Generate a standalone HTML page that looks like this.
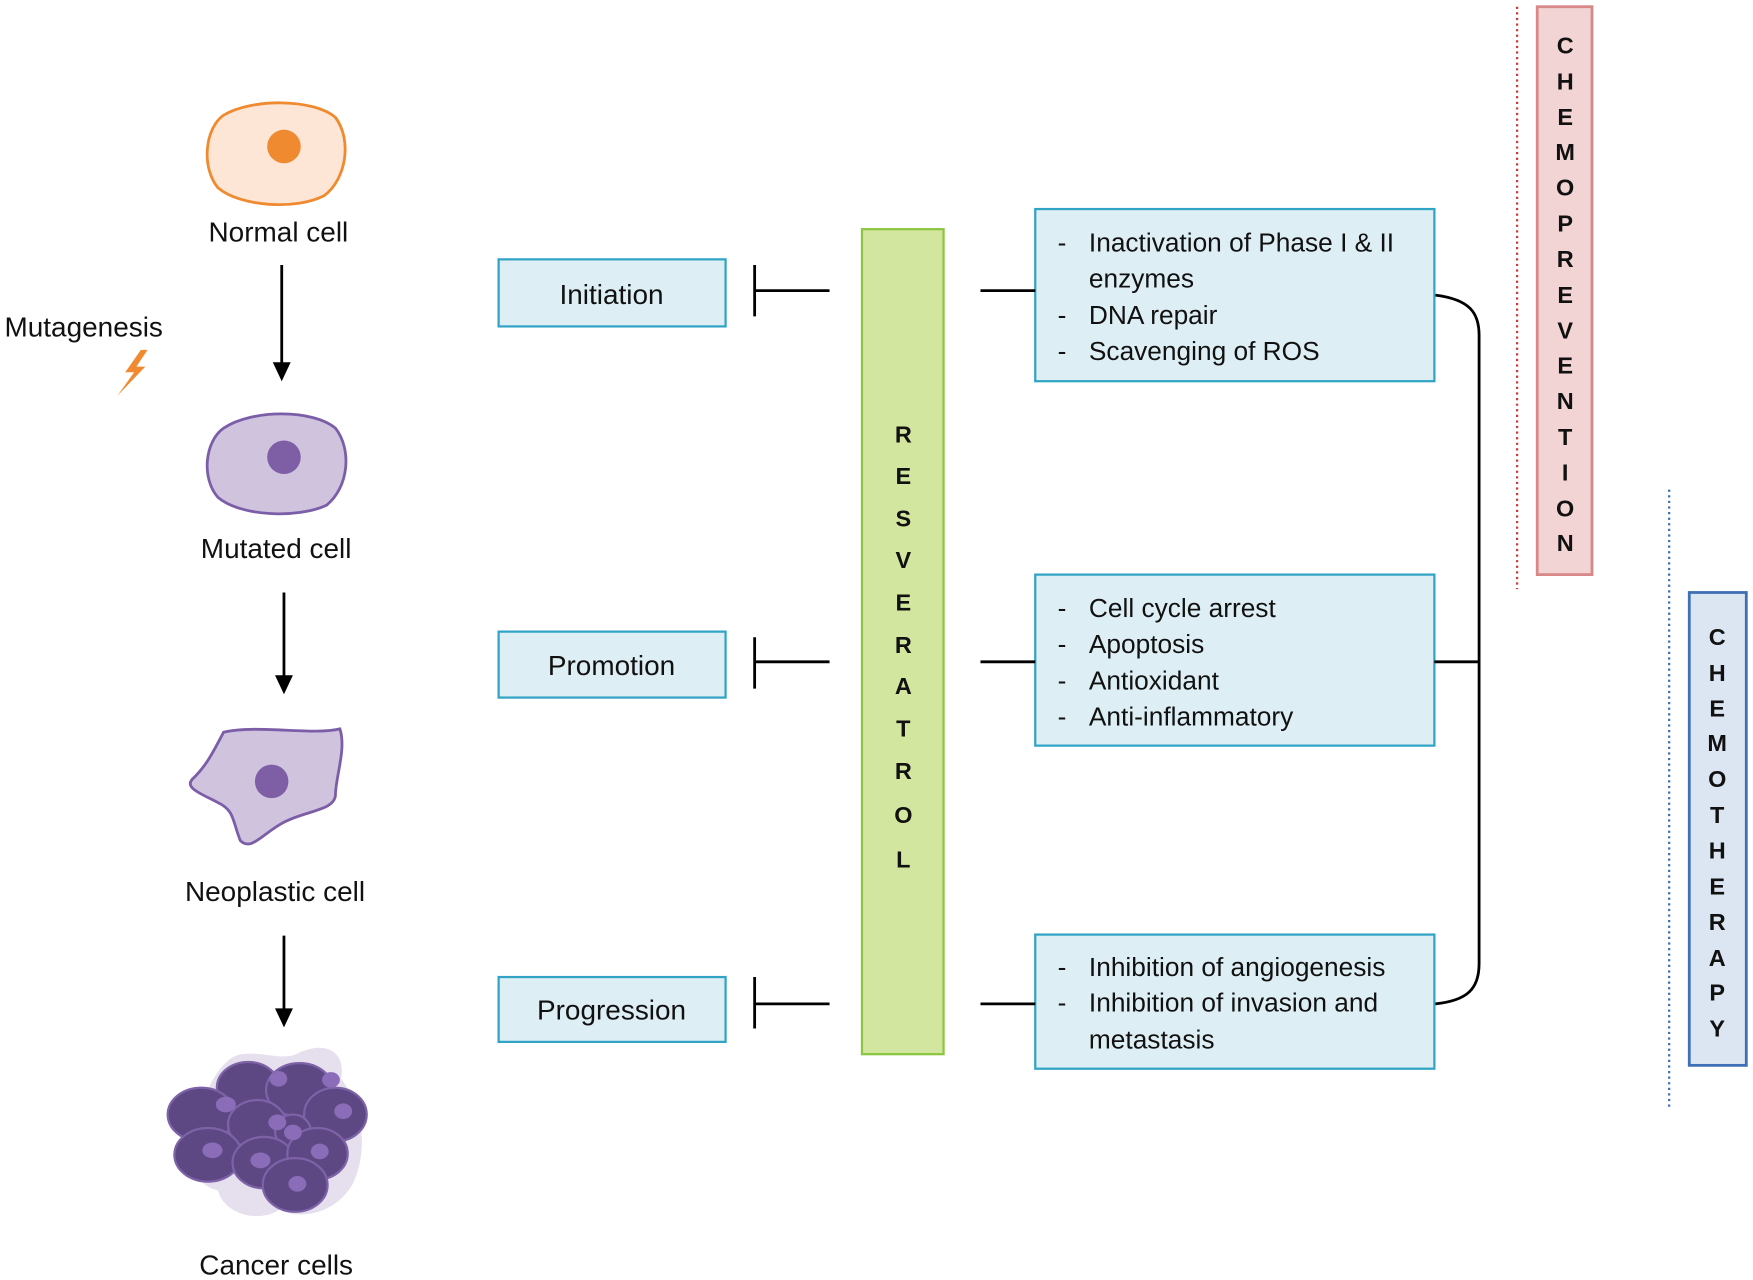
<!DOCTYPE html>
<html><head><meta charset="utf-8"><style>
html,body{margin:0;padding:0;background:#fff;width:1753px;height:1280px;overflow:hidden}
svg{display:block}
text{font-family:"Liberation Sans",sans-serif;fill:#111}
.lbl{font-size:25px;text-anchor:middle}
.bx{font-size:23.5px}
.v{font-size:21px;font-weight:bold;text-anchor:middle}
</style></head><body>
<svg width="1753" height="1280" viewBox="0 0 1568 1145" preserveAspectRatio="none" xmlns="http://www.w3.org/2000/svg">
<!-- Normal cell -->
<path d="M200,103 C225,88 280,88 300,105 C315,125 310,160 290,175 C265,188 215,185 195,168 C180,150 183,115 200,103 Z" fill="#fde6d6" stroke="#f08a30" stroke-width="2.5"/>
<circle cx="254" cy="131" r="15" fill="#f08a30"/>
<text class="lbl" x="249" y="216">Normal cell</text>
<line x1="252" y1="237" x2="252" y2="326" stroke="#000" stroke-width="2.5"/>
<polygon points="244,324 260,324 252,341" fill="#000"/>
<text x="4" y="301" style="font-size:25px">Mutagenesis</text>
<path d="M126,313 L112,333 L120,333 L105,354 L130,328 L122,328 L132,313 Z" fill="#f08a30"/>
<!-- Mutated -->
<path d="M200,383 C225,366 280,366 300,383 C315,402 312,436 292,452 C266,464 215,462 195,445 C180,428 183,395 200,383 Z" fill="#cfc3de" stroke="#7b5ea7" stroke-width="2.5"/>
<circle cx="254" cy="409" r="15" fill="#7e5fa6"/>
<text class="lbl" x="247" y="499">Mutated cell</text>
<line x1="254" y1="530" x2="254" y2="606" stroke="#000" stroke-width="2.5"/>
<polygon points="246,604 262,604 254,621" fill="#000"/>
<!-- Neoplastic -->
<path d="M200,655 C230,648 280,658 304,652 C310,670 300,695 300,712 C298,725 275,725 255,735 C235,745 225,762 215,752 C208,735 210,725 195,718 C180,710 165,705 172,697 C185,685 192,670 200,655 Z" fill="#cfc3de" stroke="#7b5ea7" stroke-width="2.5"/>
<circle cx="243" cy="699" r="15" fill="#7e5fa6"/>
<text class="lbl" x="246" y="806">Neoplastic cell</text>
<line x1="254" y1="837" x2="254" y2="904" stroke="#000" stroke-width="2.5"/>
<polygon points="246,902 262,902 254,919" fill="#000"/>
<!-- Cancer cluster -->
<path d="M205,948 C220,935 250,950 265,943 C290,930 310,940 305,965 C325,990 330,1030 315,1060 C300,1085 270,1092 250,1082 C230,1095 200,1085 195,1065 C175,1060 165,1040 175,1010 C180,985 190,960 205,948 Z" fill="#e6dfee"/>
<g fill="#5d4883" stroke="#7d62a8" stroke-width="2">
<ellipse cx="222" cy="973" rx="28" ry="23"/>
<ellipse cx="268" cy="975" rx="30" ry="24"/>
<ellipse cx="180" cy="997" rx="30" ry="24"/>
<ellipse cx="300" cy="997" rx="28" ry="24"/>
<ellipse cx="230" cy="1006" rx="26" ry="22"/>
<ellipse cx="262" cy="1012" rx="16" ry="15"/>
<ellipse cx="186" cy="1033" rx="30" ry="24"/>
<ellipse cx="236" cy="1040" rx="28" ry="23"/>
<ellipse cx="284" cy="1032" rx="27" ry="23"/>
<ellipse cx="264" cy="1060" rx="29" ry="24"/>
</g>
<g fill="#8a6cb8">
<ellipse cx="249" cy="965" rx="8" ry="7"/><ellipse cx="296" cy="966" rx="8" ry="7"/>
<ellipse cx="202" cy="988" rx="9" ry="7"/><ellipse cx="338" cy="1009" rx="8" ry="7" opacity="0"/>
<ellipse cx="248" cy="1004" rx="8" ry="7"/><ellipse cx="290" cy="1028" rx="8" ry="7" opacity="0"/>
<ellipse cx="262" cy="1013" rx="8" ry="7"/><ellipse cx="307" cy="994" rx="8" ry="7"/>
<ellipse cx="190" cy="1029" rx="9" ry="7"/><ellipse cx="233" cy="1038" rx="9" ry="7"/>
<ellipse cx="286" cy="1030" rx="8" ry="7"/><ellipse cx="266" cy="1059" rx="8" ry="7"/>
</g>
<text class="lbl" x="247" y="1140">Cancer cells</text>
<!-- Stage boxes -->
<g fill="#ddeef4" stroke="#31a4c6" stroke-width="2">
<rect x="446" y="232" width="203" height="60"/>
<rect x="446" y="565" width="203" height="59"/>
<rect x="446" y="874" width="203" height="58"/>
<rect x="926" y="187" width="357" height="154"/>
<rect x="926" y="514" width="357" height="153"/>
<rect x="926" y="836" width="357" height="120"/>
</g>
<text class="lbl" x="547" y="272">Initiation</text>
<text class="lbl" x="547" y="604">Promotion</text>
<text class="lbl" x="547" y="912">Progression</text>
<g stroke="#000" stroke-width="2.5" fill="none">
<path d="M675,237 V283 M675,260 H742"/>
<path d="M675,570 V616 M675,592 H742"/>
<path d="M675,874 V920 M675,898 H742"/>
<path d="M877,260 H926 M877,592 H926 M877,898 H926"/>
<path d="M1284,264 C1315,268 1323,280 1323,300 V862 C1323,885 1312,895 1284,898"/>
<path d="M1283,592 H1323"/>
</g>
<rect x="771" y="205" width="73" height="738" fill="#d3e6a0" stroke="#8cc63f" stroke-width="2"/>
<g>
<text class="v" x="808" y="396">R</text><text class="v" x="808" y="433">E</text><text class="v" x="808" y="471">S</text><text class="v" x="808" y="508">V</text><text class="v" x="808" y="546">E</text><text class="v" x="808" y="584">R</text><text class="v" x="808" y="621">A</text><text class="v" x="808" y="659">T</text><text class="v" x="808" y="697">R</text><text class="v" x="808" y="736">O</text><text class="v" x="808" y="776">L</text>
</g>
<g>
<text class="bx" x="946" y="225">-</text><text class="bx" x="974" y="225">Inactivation of Phase I &amp; II</text>
<text class="bx" x="974" y="257">enzymes</text>
<text class="bx" x="946" y="290">-</text><text class="bx" x="974" y="290">DNA repair</text>
<text class="bx" x="946" y="322">-</text><text class="bx" x="974" y="322">Scavenging of ROS</text>
<text class="bx" x="946" y="552">-</text><text class="bx" x="974" y="552">Cell cycle arrest</text>
<text class="bx" x="946" y="584">-</text><text class="bx" x="974" y="584">Apoptosis</text>
<text class="bx" x="946" y="617">-</text><text class="bx" x="974" y="617">Antioxidant</text>
<text class="bx" x="946" y="649">-</text><text class="bx" x="974" y="649">Anti-inflammatory</text>
<text class="bx" x="946" y="873">-</text><text class="bx" x="974" y="873">Inhibition of angiogenesis</text>
<text class="bx" x="946" y="905">-</text><text class="bx" x="974" y="905">Inhibition of invasion and</text>
<text class="bx" x="974" y="938">metastasis</text>
</g>
<!-- Chemoprevention -->
<line x1="1357" y1="6" x2="1357" y2="527" stroke="#c83c3c" stroke-width="2" stroke-dasharray="2,3"/>
<rect x="1375" y="6" width="49" height="508" fill="#f2d4d4" stroke="#d88888" stroke-width="2.5"/>
<g>
<text class="v" x="1400" y="48">C</text><text class="v" x="1400" y="80">H</text><text class="v" x="1400" y="112">E</text><text class="v" x="1400" y="143">M</text><text class="v" x="1400" y="175">O</text><text class="v" x="1400" y="207">P</text><text class="v" x="1400" y="239">R</text><text class="v" x="1400" y="271">E</text><text class="v" x="1400" y="303">V</text><text class="v" x="1400" y="334">E</text><text class="v" x="1400" y="366">N</text><text class="v" x="1400" y="398">T</text><text class="v" x="1400" y="430">I</text><text class="v" x="1400" y="462">O</text><text class="v" x="1400" y="493">N</text>
</g>
<!-- Chemotherapy -->
<line x1="1493" y1="438" x2="1493" y2="990" stroke="#3f6fb5" stroke-width="2" stroke-dasharray="2,3"/>
<rect x="1511" y="530" width="51" height="423" fill="#dce6f2" stroke="#3f6fb5" stroke-width="2.5"/>
<g>
<text class="v" x="1536" y="577">C</text><text class="v" x="1536" y="609">H</text><text class="v" x="1536" y="641">E</text><text class="v" x="1536" y="672">M</text><text class="v" x="1536" y="704">O</text><text class="v" x="1536" y="736">T</text><text class="v" x="1536" y="768">H</text><text class="v" x="1536" y="800">E</text><text class="v" x="1536" y="832">R</text><text class="v" x="1536" y="864">A</text><text class="v" x="1536" y="895">P</text><text class="v" x="1536" y="927">Y</text>
</g>
</svg>
</body></html>
